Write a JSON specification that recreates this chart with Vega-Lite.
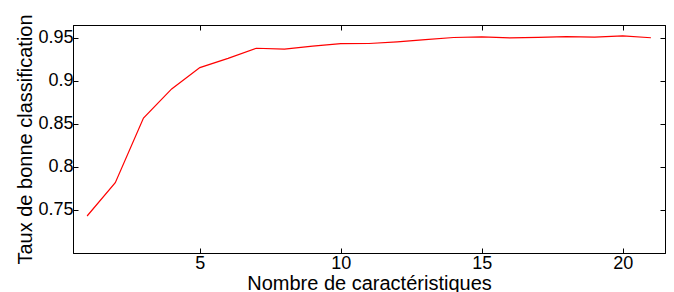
{
  "$schema": "https://vega.github.io/schema/vega-lite/v6.json",
  "width": 592,
  "height": 228,
  "autosize": "none",
  "padding": {"left": 73, "top": 25, "right": 9, "bottom": 39},
  "background": "white",
  "config": {
    "font": "Liberation Sans",
    "view": {"stroke": "black", "strokeWidth": 1},
    "axis": {
      "grid": false,
      "domainColor": "black",
      "tickColor": "black",
      "labelColor": "black",
      "titleColor": "black",
      "labelFont": "Liberation Sans",
      "titleFont": "Liberation Sans",
      "labelFontSize": 18,
      "titleFontSize": 20,
      "titleFontWeight": "normal",
      "tickSize": -5
    }
  },
  "data": {
    "values": [
      {"n": 1, "taux": 0.743},
      {"n": 2, "taux": 0.7817},
      {"n": 3, "taux": 0.8568},
      {"n": 4, "taux": 0.8907},
      {"n": 5, "taux": 0.9155},
      {"n": 6, "taux": 0.9262},
      {"n": 7, "taux": 0.938},
      {"n": 8, "taux": 0.937},
      {"n": 9, "taux": 0.9404},
      {"n": 10, "taux": 0.9433},
      {"n": 11, "taux": 0.9435},
      {"n": 12, "taux": 0.9454},
      {"n": 13, "taux": 0.948},
      {"n": 14, "taux": 0.9505},
      {"n": 15, "taux": 0.9513},
      {"n": 16, "taux": 0.95},
      {"n": 17, "taux": 0.9507},
      {"n": 18, "taux": 0.9515},
      {"n": 19, "taux": 0.951},
      {"n": 20, "taux": 0.9523},
      {"n": 21, "taux": 0.9502}
    ]
  },
  "layer": [
    {
      "mark": {"type": "line", "color": "#ff0000", "strokeWidth": 1.2},
      "encoding": {
        "x": {
          "field": "n", "type": "quantitative",
          "scale": {"domain": [0.5, 21.5], "nice": false, "zero": false},
          "axis": {"orient": "bottom", "values": [5, 10, 15, 20], "title": "Nombre de caractéristiques", "labelPadding": 6, "titlePadding": 1, "labelFlush": false}
        },
        "y": {
          "field": "taux", "type": "quantitative",
          "scale": {"domain": [0.7, 0.965], "nice": false, "zero": false},
          "axis": {"orient": "left", "values": [0.75, 0.8, 0.85, 0.9, 0.95], "title": "Taux de bonne classification", "labelPadding": 5, "titlePadding": 2, "labelFlush": false, "labelExpr": "replace(format(datum.value, '.2f'), /0$/, '')"}
        }
      }
    },
    {
      "mark": {"type": "line", "opacity": 0},
      "encoding": {
        "x": {
          "field": "n", "type": "quantitative",
          "scale": {"domain": [0.5, 21.5], "nice": false, "zero": false},
          "axis": {"orient": "top", "values": [5, 10, 15, 20], "labels": false, "title": null}
        },
        "y": {
          "field": "taux", "type": "quantitative",
          "scale": {"domain": [0.7, 0.965], "nice": false, "zero": false},
          "axis": {"orient": "right", "values": [0.75, 0.8, 0.85, 0.9, 0.95], "labels": false, "title": null}
        }
      }
    }
  ],
  "resolve": {"axis": {"x": "independent", "y": "independent"}}
}
